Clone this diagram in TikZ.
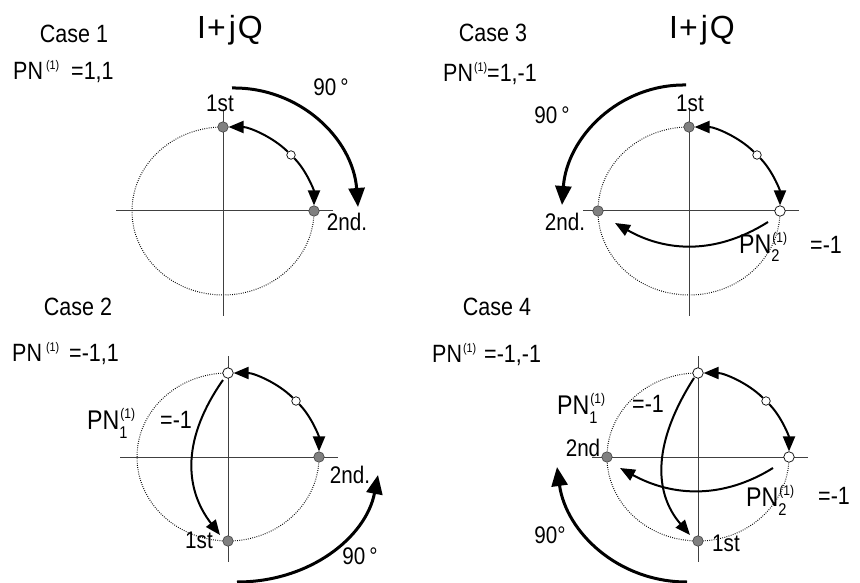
\documentclass[tikz,border=0pt]{standalone}
\usepackage{fontspec}
\setmainfont{Liberation Sans}[FakeStretch=0.86]
\newfontfamily\iqfont{Liberation Sans}
\usetikzlibrary{arrows.meta}
\newcommand\PNsupr[1]{PN\kern#1\raisebox{10pt}{\fontsize{12.5}{12.5}\selectfont(1)}}
\newcommand\PNsubr[1]{PN\rlap{\raisebox{11pt}{\fontsize{14}{14}\selectfont\kern1pt(1)}}\raisebox{-9pt}{\fontsize{17}{17}\selectfont #1}}
\begin{document}
\begin{tikzpicture}[x=1pt,y=-1pt,
  txt/.style={inner sep=0pt, font=\fontsize{25}{27}\selectfont},
  pnt/.style={inner sep=0pt, font=\fontsize{27}{29}\selectfont},
  lab/.style={inner sep=0pt, font=\fontsize{24}{26}\selectfont},
  bigt/.style={inner sep=0pt, font=\iqfont\fontsize{32}{34}\selectfont},
  axis/.style={draw=black!75, line width=1pt},
  ring/.style={draw, line width=1pt, dash pattern=on 0.8pt off 1.4pt},
  fulldot/.style={circle, fill=black!50, draw=black!75, line width=0.6pt, minimum size=10.5pt, inner sep=0pt},
  opendot/.style={circle, fill=white, draw=black, line width=0.7pt, minimum size=10.5pt, inner sep=0pt},
  middot/.style={opendot, minimum size=8.5pt},
  arr/.style={draw, line width=2pt, -{Triangle[length=15pt,width=12pt]}},
  bigarr/.style={draw, line width=3pt, -{Triangle[length=19pt,width=16pt]}}]
\useasboundingbox (0,0) rectangle (860,583);

% ---------- Case 1 ----------
\begin{scope}[shift={(223,211)}]
  \draw[ring] (91,0) arc[start angle=0, end angle=270, x radius=91, y radius=84];
  \draw[axis] (-107,0) -- (110,0);
  \draw[axis] (0,-101) -- (0,105);
  \node[fulldot] (t1) at (0,-84) {};
  \node[fulldot] (r1) at (91,0) {};
  \node[middot] (m1) at (68,-56) {};
  \draw[arr] (m1) .. controls (50,-74) and (26,-84) .. (t1);
  \draw[arr] (m1) .. controls (83,-41) and (91,-21) .. (r1);
  \coordinate (s1) at (9,-123);
  \coordinate (e1) at (135,-4);
  \draw[bigarr] (s1) .. controls (77,-124) and (130,-72) .. (e1);
\end{scope}
\node[txt] (case1) at (74,34) {Case 1};
\node[bigt] (iq1) at (230,30) {I\kern1pt+\kern3pt j\kern2pt Q};
\node[txt, anchor=base west] (pn1) at (13,80) {\PNsupr{3pt}\kern12pt=1,1};
\node[lab] (st1) at (220,103) {1st};
\node[lab] (nd1) at (347,222) {2nd.};
\node[lab] (dg1) at (331,87) {90\,°};

% ---------- Case 3 ----------
\begin{scope}[shift={(689,211)}]
  \draw[ring] (91,0) arc[start angle=0, end angle=270, x radius=91, y radius=84];
  \draw[axis] (-106,0) -- (110,0);
  \draw[axis] (0,-101) -- (0,105);
  \node[fulldot] (t3) at (0,-84) {};
  \node[fulldot] (l3) at (-91,0) {};
  \node[opendot] (r3) at (91,0) {};
  \node[middot] (m3) at (68,-56) {};
  \draw[arr] (m3) .. controls (50,-74) and (26,-84) .. (t3);
  \draw[arr] (m3) .. controls (83,-41) and (91,-21) .. (r3);
  \coordinate (s3) at (-3,-126);
  \coordinate (e3) at (-127,-6);
  \draw[bigarr] (s3) .. controls (-70,-127) and (-122,-74) .. (e3);
  \coordinate (p3a) at (79,11);
  \coordinate (p3b) at (-74,12);
  \draw[arr] (p3a) .. controls (25,45) and (-25,40) .. (p3b);
\end{scope}
\node[txt] (case3) at (493,33) {Case 3};
\node[bigt] (iq3) at (702,30) {I\kern1pt+\kern3pt j\kern2pt Q};
\node[txt, anchor=base west] (pn3) at (443,82) {\PNsupr{1pt}=1,-1};
\node[lab] (st3) at (690,103) {1st};
\node[lab] (nd3) at (565,222) {2nd.};
\node[lab] (dg3) at (552,115) {90\,°};
\node[pnt, anchor=base west] (pq3) at (739,253) {\PNsubr{2}};
\node[txt, anchor=base west] (eq3) at (810,253) {=-1};

% ---------- Case 2 ----------
\begin{scope}[shift={(228,457)}]
  \draw[ring] (91,0) arc[start angle=0, end angle=270, x radius=91, y radius=84];
  \draw[axis] (-108,0) -- (110,0);
  \draw[axis] (0,-101) -- (0,105);
  \node[opendot] (t2) at (0,-84) {};
  \node[fulldot] (r2) at (91,0) {};
  \node[fulldot] (b2) at (0,84) {};
  \node[middot] (m2) at (68,-56) {};
  \draw[arr] (m2) .. controls (50,-74) and (26,-84) .. (t2);
  \draw[arr] (m2) .. controls (83,-41) and (91,-21) .. (r2);
  \coordinate (p2a) at (-5,-77);
  \coordinate (p2b) at (-8,78);
  \draw[arr] (p2a) .. controls (-45,-20) and (-45,30) .. (p2b);
  \coordinate (s2) at (9,125);
  \coordinate (e2) at (150,18);
  \draw[bigarr] (s2) .. controls (82,125) and (138,80) .. (e2);
\end{scope}
\node[txt] (case2) at (78,307) {Case 2};
\node[txt, anchor=base west] (pn2) at (12,361) {\PNsupr{4pt}\kern10pt=-1,1};
\node[pnt, anchor=base west] (pq2) at (87,429) {\PNsubr{1}};
\node[txt, anchor=base west] (eq2) at (160,428) {=-1};
\node[lab] (st2) at (199,540) {1st};
\node[lab] (nd2) at (350,475) {2nd.};
\node[lab] (dg2) at (360,556) {90\,°};

% ---------- Case 4 ----------
\begin{scope}[shift={(698,457)}]
  \draw[ring] (91,0) arc[start angle=0, end angle=270, x radius=91, y radius=84];
  \draw[axis] (-106,0) -- (110,0);
  \draw[axis] (0,-101) -- (0,105);
  \node[opendot] (t4) at (0,-84) {};
  \node[opendot] (r4) at (91,0) {};
  \node[fulldot] (l4) at (-91,0) {};
  \node[fulldot] (b4) at (0,84) {};
  \node[middot] (m4) at (68,-56) {};
  \draw[arr] (m4) .. controls (50,-74) and (26,-84) .. (t4);
  \draw[arr] (m4) .. controls (83,-41) and (91,-21) .. (r4);
  \coordinate (p4a) at (-4,-79);
  \coordinate (p4b) at (-8,78);
  \draw[arr] (p4a) .. controls (-45,-15) and (-45,35) .. (p4b);
  \coordinate (q4a) at (75,11);
  \coordinate (q4b) at (-78,11);
  \draw[arr] (q4a) .. controls (25,42) and (-25,40) .. (q4b);
  \coordinate (s4) at (-11,125);
  \coordinate (e4) at (-141,10);
  \draw[bigarr] (s4) .. controls (-80,125) and (-132,75) .. (e4);
\end{scope}
\node[txt] (case4) at (497,307) {Case 4};
\node[txt, anchor=base west] (pn4) at (432,362) {\PNsupr{1pt}\kern8pt=-1,-1};
\node[pnt, anchor=base west] (pq4) at (557,414) {\PNsubr{1}};
\node[txt, anchor=base west] (eq4) at (632,412) {=-1};
\node[lab] (nd4) at (583,448) {2nd};
\node[lab] (st4) at (726,543) {1st};
\node[pnt, anchor=base west] (pr4) at (746,506) {\PNsubr{2}};
\node[txt, anchor=base west] (er4) at (818,504) {=-1};
\node[lab] (dg4) at (550,535) {90°};
\end{tikzpicture}
\end{document}
